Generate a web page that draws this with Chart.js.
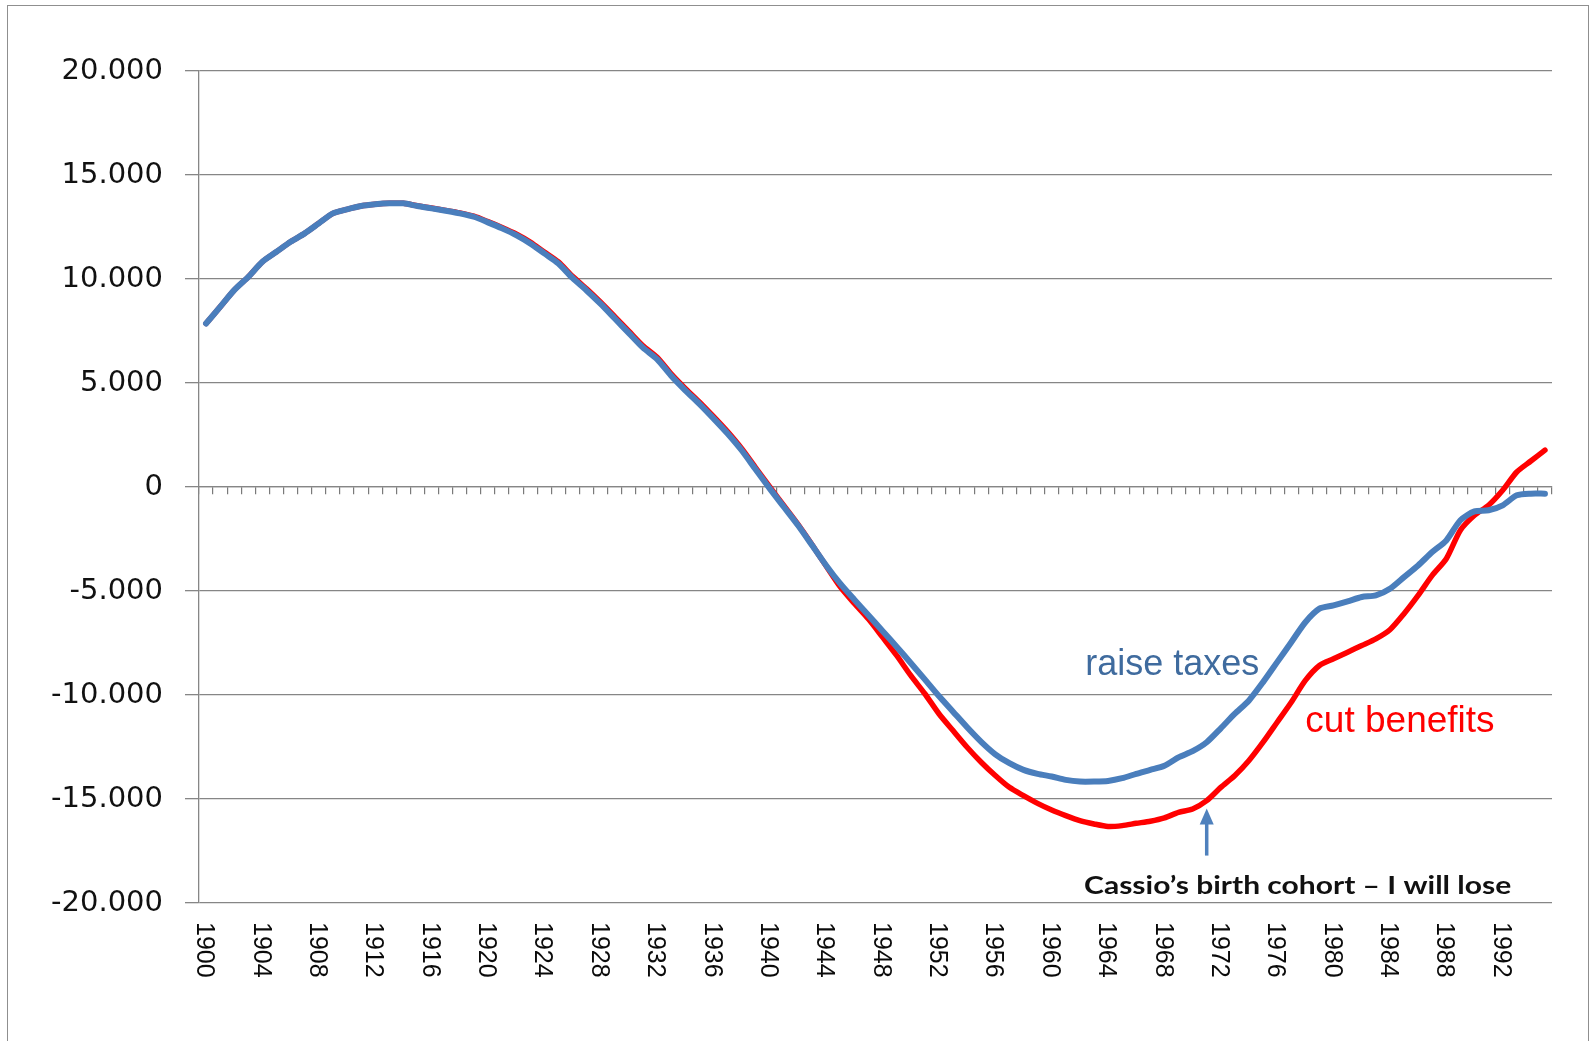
<!DOCTYPE html>
<html><head><meta charset="utf-8">
<script src="https://cdn.jsdelivr.net/npm/chart.js@4.4.1/dist/chart.umd.min.js"></script>
<style>
html,body{margin:0;padding:0;background:#fff;overflow:hidden;}
canvas{position:absolute;left:0;top:0;}
#frame{position:absolute;left:7px;top:5px;width:1582px;height:1040px;border:1.5px solid #8f8f8f;border-bottom:none;box-sizing:border-box;pointer-events:none;}
</style></head><body>
<canvas id="c" width="1591" height="1041"></canvas>
<div id="frame"></div>
<script>
const years = ['1900','1901','1902','1903','1904','1905','1906','1907','1908','1909',
'1910','1911','1912','1913','1914','1915','1916','1917','1918','1919',
'1920','1921','1922','1923','1924','1925','1926','1927','1928','1929',
'1930','1931','1932','1933','1934','1935','1936','1937','1938','1939',
'1940','1941','1942','1943','1944','1945','1946','1947','1948','1949',
'1950','1951','1952','1953','1954','1955','1956','1957','1958','1959',
'1960','1961','1962','1963','1964','1965','1966','1967','1968','1969',
'1970','1971','1972','1973','1974','1975','1976','1977','1978','1979',
'1980','1981','1982','1983','1984','1985','1986','1987','1988','1989',
'1990','1991','1992','1993','1994','1995'];

const xTickLabels = ['1900','1904','1908','1912','1916','1920','1924','1928','1932','1936','1940','1944',
'1948','1952','1956','1960','1964','1968','1972','1976','1980','1984','1988','1992'];

const yTicks = [-20000,-15000,-10000,-5000,0,5000,10000,15000,20000];

const raiseTaxes = [7860, 8660, 9465, 10105, 10827, 11308, 11790, 12193, 12675, 13156,
 13349, 13508, 13589, 13637, 13637, 13508, 13397, 13281, 13156, 12993,
 12723, 12434, 12112, 11712, 11231, 10750, 10050, 9450, 8800, 8100,
 7400, 6700, 6150, 5350, 4650, 4000, 3300, 2570, 1766, 840,
 -80, -960, -1840, -2800, -3770, -4650, -5420, -6170, -6920, -7680,
 -8460, -9250, -10050, -10800, -11550, -12250, -12850, -13280, -13600, -13790,
 -13920, -14080, -14160, -14160, -14130, -14000, -13790, -13600, -13400, -13000,
 -12700, -12270, -11600, -10900, -10260, -9380, -8420, -7460, -6500, -5850,
 -5690, -5500, -5290, -5210, -4890, -4330, -3770, -3130, -2570, -1600,
 -1170, -1120, -880, -400, -320, -320];

const cutBenefits = [7860, 8660, 9465, 10105, 10827, 11308, 11790, 12193, 12675, 13156,
 13349, 13508, 13589, 13637, 13637, 13520, 13410, 13300, 13180, 13020,
 12760, 12480, 12170, 11780, 11300, 10820, 10130, 9530, 8880, 8190,
 7490, 6790, 6240, 5440, 4740, 4090, 3390, 2660, 1850, 920,
 0, -900, -1800, -2780, -3800, -4800, -5600, -6350, -7220, -8100,
 -9060, -9940, -10900, -11710, -12510, -13230, -13870, -14440, -14840, -15210,
 -15530, -15800, -16040, -16200, -16320, -16280, -16170, -16070, -15910, -15640,
 -15480, -15080, -14440, -13870, -13150, -12270, -11310, -10350, -9300, -8580,
 -8260, -7940, -7620, -7300, -6860, -6090, -5210, -4250, -3450, -2080,
 -1360, -880, -160, 720, 1250, 1770];

const seriesNames = ['raise taxes', 'cut benefits'];

// annotation anchors in data space (category index, value)
const notes = [
  {text:'raise taxes', at:62.38, value:-9060, color:'#3F6B9E', font:'36px "Liberation Sans", Arial, sans-serif', squeeze:1},
  {text:'cut benefits', at:78.0, value:-11790, color:'#FF0000', font:'37px "Liberation Sans", Arial, sans-serif', squeeze:1},
  {text:'Cassio\u2019s birth cohort \u2013 I will lose', at:62.3, value:-19550, color:'#111111', font:'bold 30px Lato, sans-serif', squeeze:0.85}
];
const arrowNote = {at:71, from:-17720, to:-15460, color:'#4F81BD'};

function fmtThousands(v){
  const s = Math.abs(v).toString().replace(/\B(?=(\d{3})+(?!\d))/g, '.');
  return (v < 0 ? '-' : '') + s;
}

const overlay = {
  id:'overlay',
  afterDraw(chart){
    const {ctx, chartArea} = chart;
    const x = chart.scales.x, y = chart.scales.y;
    ctx.save();
    // rotated category labels (top-to-bottom)
    ctx.font = '25px "Liberation Sans", Arial, sans-serif';
    ctx.fillStyle = '#0a0a0a';
    ctx.textAlign = 'left';
    ctx.textBaseline = 'middle';
    xTickLabels.forEach(l => {
      const px = x.getPixelForValue(years.indexOf(l));
      ctx.save();
      ctx.translate(px - 2, chartArea.bottom + 19);
      ctx.rotate(Math.PI / 2);
      ctx.fillText(l, 0, 0);
      ctx.restore();
    });
    // text notes
    notes.forEach(n => {
      ctx.save();
      ctx.font = n.font;
      ctx.fillStyle = n.color;
      ctx.textAlign = 'left';
      ctx.textBaseline = 'alphabetic';
      ctx.translate(x.getPixelForValue(n.at), y.getPixelForValue(n.value));
      ctx.scale(1, n.squeeze);
      ctx.fillText(n.text, 0, 0);
      ctx.restore();
    });
    // arrow
    const ax = x.getPixelForValue(arrowNote.at);
    const y0 = y.getPixelForValue(arrowNote.from);
    const y1 = y.getPixelForValue(arrowNote.to);
    ctx.strokeStyle = arrowNote.color;
    ctx.fillStyle = arrowNote.color;
    ctx.lineWidth = 3.5;
    ctx.beginPath();
    ctx.moveTo(ax, y0);
    ctx.lineTo(ax, y1 + 12);
    ctx.stroke();
    ctx.beginPath();
    ctx.moveTo(ax, y1);
    ctx.lineTo(ax - 7, y1 + 16);
    ctx.lineTo(ax + 7, y1 + 16);
    ctx.closePath();
    ctx.fill();
    ctx.restore();
  }
};

const gridGray = '#868686';

new Chart(document.getElementById('c'), {
  type:'line',
  data:{
    labels: years,
    datasets:[
      {label: seriesNames[0], data: raiseTaxes, borderColor:'#4A7EBC', borderWidth:6,
       pointRadius:0, tension:0.25, borderCapStyle:'round', borderJoinStyle:'round'},
      {label: seriesNames[1], data: cutBenefits, borderColor:'#FF0000', borderWidth:5.5,
       pointRadius:0, tension:0.25, borderCapStyle:'round', borderJoinStyle:'round'}
    ]
  },
  options:{
    responsive:false,
    animation:false,
    events:[],
    layout:{padding:{left:0, right:39, top:71, bottom:0}},
    plugins:{legend:{display:false}, tooltip:{enabled:false}, title:{display:false}},
    scales:{
      x:{
        type:'category', offset:true,
        grid:{display:false},
        border:{display:false},
        ticks:{display:false},
        afterFit(s){ s.height = 138; }
      },
      x2:{
        type:'category', offset:true, position:{y:0},
        grid:{drawOnChartArea:false, drawTicks:true, tickLength:7, offset:true, color:'#7a7a7a', lineWidth:1.2},
        border:{display:true, color:gridGray, width:1.3},
        ticks:{display:false, autoSkip:false}
      },
      y:{
        min:-20000, max:20000,
        afterBuildTicks(s){ s.ticks = yTicks.map(v => ({value:v})); },
        grid:{color:gridGray, lineWidth:1.3, tickLength:14, drawTicks:true},
        border:{display:true, color:gridGray, width:1.3},
        ticks:{padding:22, color:'#111', font:{family:'"DejaVu Sans", sans-serif', size:29},
          callback:(v) => fmtThousands(v)},
        afterFit(s){ s.width = 199; }
      }
    }
  },
  plugins:[overlay]
});
</script>
</body></html>
